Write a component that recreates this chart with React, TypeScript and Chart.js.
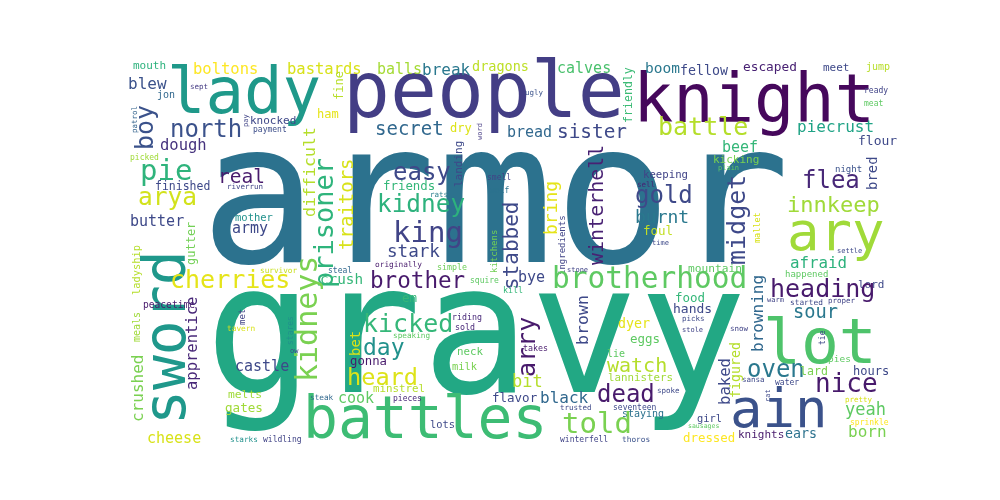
import React, { useEffect, useRef } from "react";
import { Chart, registerables } from "chart.js";
Chart.register(...registerables);

// word, left x, baseline y, size (weight), vertical?, colour
const W: [string, number, number, number, number, string][] = [
  ["armor", 200, 262, 196, 0, "#2c728e"],
  ["gravy", 205, 392, 180, 0, "#22a884"],
  ["people", 343, 117, 78, 0, "#433e85"],
  ["knight", 633, 122, 67, 0, "#46085c"],
  ["lady", 167, 113, 64, 0, "#1f998a"],
  ["ary", 787, 250, 54, 0, "#a0da39"],
  ["sword", 185, 425, 58, 1, "#1f988b"],
  ["battles", 303, 438, 58, 0, "#3dbc74"],
  ["lot", 763, 363, 63, 0, "#4ec36b"],
  ["ain", 730, 427, 54, 0, "#3b528b"],
  ["mouth", 133, 69, 11, 0, "#2db27d"],
  ["boltons", 193, 74, 15.5, 0, "#fde725"],
  ["bastards", 287, 74, 15.5, 0, "#d8e219"],
  ["balls", 377, 74, 15, 0, "#a5db36"],
  ["break", 422, 75, 16, 0, "#2a788e"],
  ["dragons", 472, 71, 13.5, 0, "#bddf26"],
  ["calves", 557, 73, 15, 0, "#4ac16d"],
  ["friendly", 632, 123, 11.6, 1, "#3bbb75"],
  ["boom", 645, 73, 14.5, 0, "#2a788e"],
  ["fellow", 680, 75, 13.3, 0, "#3e4a89"],
  ["escaped", 743, 71, 12.8, 0, "#482173"],
  ["meet", 823, 71, 11, 0, "#3e4989"],
  ["jump", 866, 70, 10, 0, "#b8de29"],
  ["ugly", 525, 95, 7.5, 0, "#3b528b"],
  ["ready", 864, 93, 8, 0, "#414487"],
  ["meat", 864, 106, 8, 0, "#5ec962"],
  ["blew", 128, 89, 16, 0, "#3b528b"],
  ["jon", 157, 98, 10, 0, "#31688e"],
  ["sept", 190, 89, 7.5, 0, "#443a83"],
  ["patrol", 137, 133, 7.5, 1, "#33638d"],
  ["pay", 248, 127, 7, 1, "#414487"],
  ["knocked", 250, 124, 11, 0, "#3f4889"],
  ["payment", 253, 132, 8, 0, "#3d4e8a"],
  ["fine", 343, 100, 12, 1, "#b8de29"],
  ["ham", 317, 118, 12, 0, "#e5e419"],
  ["boy", 153, 150, 25, 1, "#3b528b"],
  ["north", 170, 137, 24, 0, "#3b528b"],
  ["secret", 375, 135, 19, 0, "#31688e"],
  ["dry", 450, 132, 12, 0, "#dde318"],
  ["word", 482, 140, 7, 1, "#443983"],
  ["dough", 160, 150, 15.5, 0, "#46337e"],
  ["pie", 140, 180, 29, 0, "#2fb47c"],
  ["picked", 130, 160, 8, 0, "#a0da39"],
  ["real", 218, 183, 19.5, 0, "#481a6c"],
  ["finished", 155, 190, 11.5, 0, "#3e4989"],
  ["riverrun", 227, 189, 7.5, 0, "#414487"],
  ["arya", 138, 205, 24.5, 0, "#d2e21b"],
  ["butter", 130, 226, 15, 0, "#3e4989"],
  ["gutter", 195, 265, 12, 1, "#73d056"],
  ["mother", 235, 221, 10.5, 0, "#21918c"],
  ["army", 232, 233, 15, 0, "#3e4989"],
  ["prisoner", 333, 288, 27, 1, "#2fb47c"],
  ["difficult", 315, 217, 16.6, 1, "#b5de2b"],
  ["traitors", 353, 250, 19, 1, "#d8e219"],
  ["landing", 462, 187, 11, 1, "#3e4989"],
  ["easy", 393, 180, 24, 0, "#3e4989"],
  ["friends", 383, 190, 12.4, 0, "#35b779"],
  ["rats", 430, 197, 7.5, 0, "#2c7e8e"],
  ["kidney", 377, 212, 24.4, 0, "#2db27d"],
  ["king", 393, 242, 29, 0, "#414487"],
  ["smell", 487, 180, 8, 0, "#414487"],
  ["wolf", 490, 193, 8, 0, "#2c728e"],
  ["kitchens", 497, 273, 9, 1, "#73d056"],
  ["ingredients", 565, 275, 9, 1, "#414487"],
  ["bring", 557, 235, 18, 1, "#e5e419"],
  ["stabbed", 518, 290, 21, 1, "#3e4989"],
  ["winterhell", 603, 265, 20, 1, "#482173"],
  ["midget", 745, 265, 25, 1, "#3e4989"],
  ["gold", 635, 203, 24, 0, "#3e4989"],
  ["keeping", 643, 178, 10.7, 0, "#414487"],
  ["sell", 637, 187, 7.5, 0, "#482173"],
  ["burnt", 635, 223, 18, 0, "#2a788e"],
  ["foul", 643, 235, 12.5, 0, "#c2df23"],
  ["time", 652, 245, 7, 0, "#3e4989"],
  ["mallet", 760, 243, 8.5, 1, "#d8e219"],
  ["beef", 722, 152, 15, 0, "#35b779"],
  ["kicking", 713, 163, 11, 0, "#7ad151"],
  ["plain", 718, 170, 7, 0, "#5ec962"],
  ["flea", 802, 188, 24, 0, "#482878"],
  ["night", 835, 172, 9, 0, "#3b528b"],
  ["bred", 877, 190, 14, 1, "#3e4989"],
  ["flour", 858, 145, 13, 0, "#3e4989"],
  ["innkeep", 787, 212, 22, 0, "#a0da39"],
  ["piecrust", 797, 132, 16, 0, "#20a386"],
  ["battle", 658, 135, 25, 0, "#b5de2b"],
  ["sister", 557, 138, 19.4, 0, "#3e4989"],
  ["bread", 507, 137, 15, 0, "#31688e"],
  ["crushed", 143, 422, 16, 1, "#7ad151"],
  ["meals", 140, 342, 10, 1, "#a0da39"],
  ["ladyship", 140, 295, 10.4, 1, "#b5de2b"],
  ["cheese", 147, 443, 15, 0, "#d8e219"],
  ["peacetime", 143, 308, 9.6, 0, "#481a6c"],
  ["apprentice", 197, 390, 15.5, 1, "#482878"],
  ["cherries", 170, 288, 25, 0, "#e5e419"],
  ["survivor", 260, 273, 7.7, 0, "#c8e020"],
  ["stark", 387, 257, 17.6, 0, "#3e4989"],
  ["crush", 320, 284, 14.3, 0, "#35b779"],
  ["brother", 370, 288, 22.6, 0, "#481a6c"],
  ["steal", 328, 273, 8, 0, "#31688e"],
  ["originally", 375, 267, 7.8, 0, "#481a6c"],
  ["simple", 437, 270, 8.3, 0, "#6ece58"],
  ["squire", 470, 283, 8, 0, "#5ec962"],
  ["kidneys", 317, 382, 30, 1, "#7ad151"],
  ["em", 402, 302, 12.5, 0, "#35b779"],
  ["kicked", 363, 332, 25, 0, "#35b779"],
  ["met", 245, 325, 9, 1, "#414487"],
  ["stares", 293, 345, 8, 1, "#21918c"],
  ["tavern", 227, 331, 7.8, 0, "#d8e219"],
  ["day", 363, 355, 23, 0, "#21918c"],
  ["bet", 360, 356, 14, 1, "#d8e219"],
  ["speaking", 393, 338, 7.7, 0, "#5ec962"],
  ["ow", 290, 353, 7, 0, "#3e4989"],
  ["riding", 452, 320, 8.3, 0, "#482878"],
  ["sold", 455, 330, 8.3, 0, "#482878"],
  ["castle", 235, 371, 15, 0, "#3e4989"],
  ["gonna", 350, 365, 12.3, 0, "#481a6c"],
  ["neck", 457, 355, 10.8, 0, "#5ec962"],
  ["milk", 452, 370, 10.4, 0, "#7ad151"],
  ["heard", 347, 385, 23.6, 0, "#dde318"],
  ["minstrel", 373, 392, 10.8, 0, "#b5de2b"],
  ["melts", 228, 398, 11.3, 0, "#a0da39"],
  ["gates", 225, 412, 12.6, 0, "#a0da39"],
  ["cook", 338, 403, 15, 0, "#5ec962"],
  ["steak", 310, 400, 7.7, 0, "#31688e"],
  ["pieces", 393, 401, 8, 0, "#482878"],
  ["flavor", 492, 402, 12.5, 0, "#3e4989"],
  ["lots", 430, 428, 10.4, 0, "#3e4989"],
  ["starks", 230, 442, 7.7, 0, "#21918c"],
  ["wildling", 263, 442, 8, 0, "#414487"],
  ["brotherhood", 552, 288, 29.5, 0, "#5ec962"],
  ["stone", 567, 272, 7, 0, "#414487"],
  ["bye", 518, 282, 15, 0, "#3e4989"],
  ["kill", 503, 293, 8.3, 0, "#35b779"],
  ["mountain", 688, 272, 11.2, 0, "#5ec962"],
  ["afraid", 790, 268, 15.8, 0, "#2db27d"],
  ["settle", 837, 253, 7, 0, "#3e4989"],
  ["happened", 785, 277, 9, 0, "#5ec962"],
  ["lord", 858, 288, 11, 0, "#3e4989"],
  ["heading", 770, 297, 25, 0, "#481a6c"],
  ["browning", 763, 352, 16, 1, "#31688e"],
  ["food", 675, 302, 12.5, 0, "#35b779"],
  ["hands", 673, 313, 13, 0, "#3e4989"],
  ["picks", 682, 321, 7.5, 0, "#3e4989"],
  ["stole", 682, 332, 7, 0, "#414487"],
  ["warm", 767, 302, 7, 0, "#414487"],
  ["started", 790, 305, 7.8, 0, "#3e4989"],
  ["proper", 828, 303, 7.5, 0, "#414487"],
  ["sour", 793, 318, 18.7, 0, "#2a788e"],
  ["brown", 588, 345, 16.6, 1, "#3e4989"],
  ["arry", 535, 377, 25, 1, "#481a6c"],
  ["dyer", 618, 328, 13.3, 0, "#e5e419"],
  ["eggs", 630, 343, 12.5, 0, "#5ec962"],
  ["snow", 730, 331, 7.5, 0, "#414487"],
  ["takes", 523, 351, 8.3, 0, "#481a6c"],
  ["tie", 825, 345, 8, 1, "#3e4989"],
  ["figured", 740, 398, 13.3, 1, "#b5de2b"],
  ["lie", 607, 357, 10, 0, "#5ec962"],
  ["pies", 828, 362, 9.5, 0, "#5ec962"],
  ["watch", 607, 372, 20, 0, "#b5de2b"],
  ["oven", 747, 377, 24, 0, "#2a788e"],
  ["lard", 800, 375, 11.6, 0, "#7ad151"],
  ["hours", 853, 375, 12, 0, "#3e4989"],
  ["baked", 730, 405, 15.6, 1, "#3e4989"],
  ["bit", 512, 387, 17, 0, "#b5de2b"],
  ["lannisters", 608, 381, 10.8, 0, "#a0da39"],
  ["sansa", 742, 382, 7.5, 0, "#3e4989"],
  ["water", 775, 385, 8, 0, "#3e4989"],
  ["rat", 770, 402, 7, 1, "#3e4989"],
  ["nice", 815, 392, 26, 0, "#481a6c"],
  ["dead", 597, 402, 24, 0, "#481a6c"],
  ["spoke", 657, 393, 7.5, 0, "#3e4989"],
  ["black", 540, 403, 16, 0, "#31688e"],
  ["trusted", 560, 410, 7.5, 0, "#3e4989"],
  ["seventeen", 613, 410, 8, 0, "#3e4989"],
  ["staying", 622, 417, 10, 0, "#2c728e"],
  ["sausages", 688, 428, 6.5, 0, "#5ec962"],
  ["girl", 697, 422, 10.4, 0, "#3e4989"],
  ["told", 562, 433, 29, 0, "#7ad151"],
  ["pretty", 845, 402, 7.5, 0, "#d8e219"],
  ["yeah", 845, 415, 17, 0, "#5ec962"],
  ["sprinkle", 850, 425, 8, 0, "#fde725"],
  ["born", 848, 437, 16, 0, "#7ad151"],
  ["ears", 785, 438, 13.3, 0, "#2c728e"],
  ["knights", 738, 438, 11, 0, "#481a6c"],
  ["dressed", 683, 442, 12.4, 0, "#fde725"],
  ["winterfell", 560, 442, 8, 0, "#414487"],
  ["thoros", 622, 442, 7.8, 0, "#3b528b"],
];

const words = W.map((w) => w[0]);
const xs = W.map((w) => w[1]);
const ys = W.map((w) => w[2]);
const weights = W.map((w) => w[3]);
const vertical = W.map((w) => w[4]);
const colours = W.map((w) => w[5]);

const wordPlugin = {
  id: "words",
  afterDatasetsDraw(chart: any) {
    const ctx = chart.ctx;
    const xS = chart.scales.x;
    const yS = chart.scales.y;
    ctx.save();
    ctx.textBaseline = "alphabetic";
    ctx.textAlign = "left";
    words.forEach((w, i) => {
      const px = xS.getPixelForValue(xs[i]);
      const py = yS.getPixelForValue(ys[i]);
      ctx.font = `${weights[i]}px "DejaVu Sans Mono"`;
      ctx.fillStyle = colours[i];
      ctx.save();
      ctx.translate(px, py);
      if (vertical[i]) ctx.rotate(-Math.PI / 2);
      ctx.fillText(w, 0, 0);
      ctx.restore();
    });
    ctx.restore();
  },
};

export default function App() {
  const ref = useRef<HTMLCanvasElement>(null);
  useEffect(() => {
    const chart = new Chart(ref.current!, {
      type: "scatter",
      data: {
        datasets: [
          {
            data: words.map((_, i) => ({ x: xs[i], y: ys[i] })),
            pointRadius: 0,
            pointHoverRadius: 0,
          },
        ],
      },
      options: {
        animation: false,
        responsive: true,
        maintainAspectRatio: false,
        layout: { padding: 0 },
        plugins: { legend: { display: false }, tooltip: { enabled: false } },
        events: [],
        scales: {
          x: { type: "linear", min: 0, max: 1000, display: false },
          y: { type: "linear", min: 0, max: 500, reverse: true, display: false },
        },
      },
      plugins: [wordPlugin],
    });
    return () => chart.destroy();
  }, []);
  return (
    <div style={{ position: "fixed", left: 0, top: 0, width: 1000, height: 500, background: "#fff" }}>
      <canvas ref={ref} />
    </div>
  );
}
